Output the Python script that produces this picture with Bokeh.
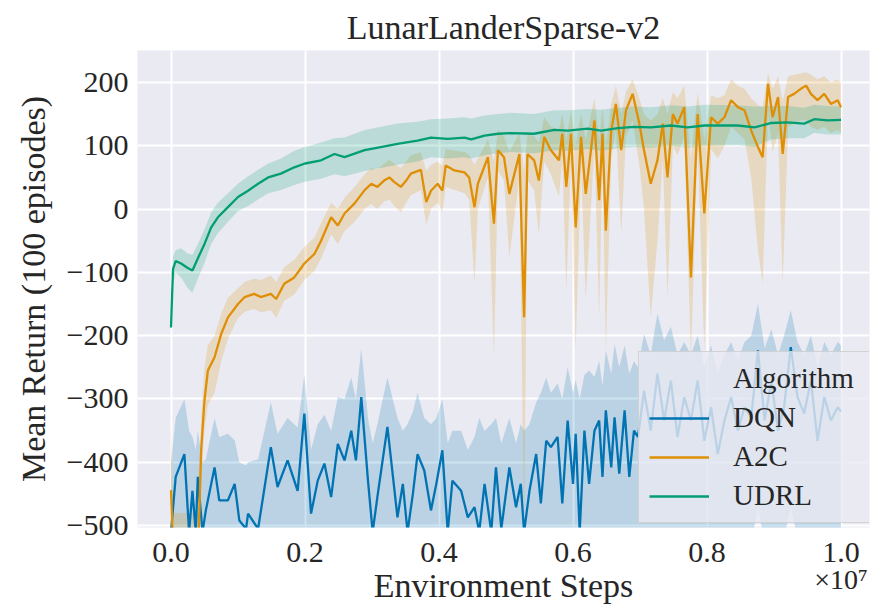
from bokeh.plotting import figure
from bokeh.models import Range1d, FixedTicker, Legend, LegendItem, LinearAxis, CustomJSTickFormatter
from bokeh.embed import file_html
from bokeh.resources import INLINE

# ---------------- data (x in units of 1e7 environment steps) ----------------
title_text = "LunarLanderSparse-v2"
x_label = "Environment Steps"
x_offset_text = "\u00d710\u2077"
y_label = "Mean Return (100 episodes)"
x_ticks = [0.0, 0.2, 0.4, 0.6, 0.8, 1.0]
y_ticks = [-500, -400, -300, -200, -100, 0, 100, 200]
algorithms = ["DQN", "A2C", "UDRL"]
colors = ["#0173B2", "#DE8F05", "#029E73"]

udrl_x = [0.000, 0.003, 0.007, 0.015, 0.025, 0.032, 0.040, 0.050, 0.060, 0.070, 0.085, 0.100,
          0.115, 0.130, 0.145, 0.164, 0.184, 0.200, 0.224, 0.244, 0.259, 0.289, 0.313, 0.338,
          0.368, 0.388, 0.413, 0.438, 0.448, 0.468, 0.488, 0.507, 0.542, 0.572, 0.592, 0.622,
          0.642, 0.667, 0.691, 0.716, 0.746, 0.771, 0.796, 0.846, 0.871, 0.896, 0.920, 0.945,
          0.960, 0.980, 1.000]
udrl_mean = [-187, -95, -82, -86, -93, -97, -78, -55, -29, -13, 3, 19,
             29, 40, 50, 56, 66, 72, 77, 87, 82, 93, 98, 103,
             108, 113, 111, 113, 110, 116, 119, 120, 119, 125, 124, 127,
             124, 128, 130, 129, 132, 129, 132, 132, 129, 136, 137, 135,
             142, 140, 141]
udrl_lo = [-195, -120, -100, -108, -125, -132, -110, -85, -55, -38, -20, -3,
           5, 15, 25, 30, 38, 43, 48, 55, 52, 60, 65, 70,
           75, 82, 80, 82, 80, 85, 88, 90, 88, 93, 92, 95,
           92, 96, 98, 97, 100, 97, 100, 101, 98, 110, 112, 112,
           120, 118, 118]
udrl_hi = [-178, -75, -65, -62, -70, -72, -55, -32, -5, 10, 25, 40,
           52, 62, 72, 80, 92, 98, 105, 112, 113, 125, 130, 135,
           138, 142, 143, 145, 143, 148, 150, 152, 150, 156, 156, 158,
           157, 160, 162, 161, 164, 162, 165, 164, 162, 163, 163, 160,
           165, 163, 162]

a2c_x = [0.000, 0.004, 0.040, 0.045, 0.050, 0.055, 0.065, 0.075, 0.085, 0.100, 0.110, 0.124,
         0.134, 0.149, 0.157, 0.169, 0.184, 0.199, 0.214, 0.224, 0.239, 0.249, 0.259, 0.274,
         0.289, 0.299, 0.308, 0.318, 0.326, 0.333, 0.343, 0.351, 0.358, 0.373, 0.381, 0.388,
         0.398, 0.405, 0.410, 0.423, 0.438, 0.445, 0.453, 0.458, 0.473, 0.482, 0.488, 0.497,
         0.505, 0.520, 0.527, 0.532, 0.542, 0.549, 0.557, 0.567, 0.579, 0.584, 0.590, 0.597,
         0.604, 0.612, 0.619, 0.632, 0.639, 0.644, 0.649, 0.657, 0.664, 0.672, 0.679, 0.689,
         0.699, 0.706, 0.716, 0.726, 0.734, 0.741, 0.749, 0.756, 0.766, 0.776, 0.786, 0.796,
         0.806, 0.816, 0.826, 0.836, 0.846, 0.856, 0.866, 0.876, 0.883, 0.891, 0.898, 0.906,
         0.913, 0.921, 0.930, 0.940, 0.948, 0.955, 0.965, 0.975, 0.985, 0.995, 1.000]
a2c_mean = [-444, -560, -560, -381, -302, -255, -234, -197, -171, -150, -139, -134,
            -139, -134, -142, -118, -108, -86, -71, -50, -13, -26, -7, 9,
            30, 40, 35, 45, 50, 43, 35, 45, 56, 62, 11, 29,
            40, 29, 69, 61, 58, 50, 3, 40, 82, -23, 93, 82,
            24, 87, -171, 87, 77, 45, 114, 93, 77, 119, 35, 119,
            -29, 114, 24, 140, 14, 119, -34, 124, 166, 93, 156, 182,
            135, 93, 40, 77, 135, 50, 150, 135, 161, -108, 150, -7,
            145, 135, 145, 172, 161, 156, 124, 98, 82, 198, 145, 177,
            87, 177, 182, 190, 195, 182, 172, 182, 166, 172, 161]
a2c_lo = [-520, -600, -600, -430, -350, -310, -290, -240, -205, -172, -162, -158,
          -163, -160, -172, -145, -135, -112, -98, -78, -40, -55, -35, -20,
          0, 8, 0, 12, 15, 5, -5, 10, 22, 30, -25, 0,
          10, -5, 35, 30, 25, 15, -118, 0, 50, -234, 60, 45,
          -76, 50, -510, 45, 30, -40, 75, 55, 20, 80, -129, 80,
          -223, 70, -144, 100, -171, 75, -223, 80, 125, -39, 115, 140,
          70, 0, -171, -50, 80, -140, 100, 85, 115, -234, 100, -223,
          95, 80, 100, 130, 120, 110, 50, -65, -118, 150, 90, 120,
          -118, 130, 135, 140, 140, 130, 125, 130, 120, 125, 120]
a2c_hi = [-345, -480, -480, -330, -250, -215, -200, -165, -140, -125, -115, -110,
          -112, -105, -115, -92, -80, -60, -45, -22, 10, 0, 18, 35,
          55, 65, 62, 72, 78, 72, 65, 75, 85, 90, 60, 70,
          75, 68, 95, 92, 90, 85, 70, 80, 110, 75, 125, 115,
          90, 120, 60, 120, 115, 105, 145, 130, 125, 150, 110, 155,
          100, 150, 110, 175, 110, 160, 100, 165, 195, 150, 185, 205,
          175, 150, 140, 150, 175, 150, 185, 175, 195, 80, 185, 110,
          180, 175, 180, 205, 195, 190, 175, 165, 160, 215, 190, 210,
          170, 210, 212, 214, 216, 212, 205, 210, 200, 205, 198]

dqn_x = [0.000, 0.007, 0.020, 0.027, 0.032, 0.037, 0.040, 0.047, 0.052, 0.065, 0.072, 0.085,
         0.095, 0.102, 0.112, 0.115, 0.130, 0.149, 0.159, 0.174, 0.189, 0.199, 0.209, 0.219,
         0.229, 0.239, 0.249, 0.259, 0.269, 0.276, 0.284, 0.294, 0.301, 0.308, 0.323, 0.338,
         0.346, 0.353, 0.361, 0.368, 0.378, 0.388, 0.396, 0.405, 0.413, 0.420, 0.433, 0.443,
         0.453, 0.460, 0.468, 0.478, 0.485, 0.493, 0.505, 0.515, 0.522, 0.527, 0.535, 0.545,
         0.552, 0.560, 0.567, 0.577, 0.584, 0.592, 0.600, 0.604, 0.610, 0.617, 0.624, 0.632,
         0.639, 0.644, 0.649, 0.657, 0.662, 0.669, 0.677, 0.684, 0.691, 0.697, 0.706, 0.716,
         0.726, 0.736, 0.746, 0.756, 0.766, 0.776, 0.786, 0.796, 0.806, 0.816, 0.826, 0.836,
         0.846, 0.856, 0.866, 0.876, 0.886, 0.896, 0.906, 0.915, 0.925, 0.935, 0.945, 0.955,
         0.965, 0.975, 0.985, 0.995, 1.000]
dqn_mean = [-510, -423, -387, -510, -445, -510, -423, -510, -476, -408, -460, -460,
            -434, -492, -505, -481, -505, -376, -439, -397, -445, -323, -481, -429,
            -402, -455, -371, -397, -350, -397, -297, -429, -510, -455, -344, -487,
            -434, -510, -450, -387, -413, -476, -434, -381, -510, -429, -445, -487,
            -471, -510, -434, -510, -408, -505, -408, -471, -434, -510, -445, -387,
            -465, -366, -376, -360, -465, -334, -434, -355, -510, -350, -434, -350,
            -334, -423, -318, -408, -329, -418, -318, -423, -350, -360, -287, -350,
            -260, -334, -271, -360, -297, -334, -271, -366, -313, -387, -334, -297,
            -350, -313, -330, -223, -334, -271, -350, -313, -218, -297, -323, -271,
            -366, -297, -334, -313, -320]
dqn_lo = [-560] * 83 + [-540, -520, -530, -510, -540, -520, -530, -510, -540, -520, -550, -530,
                        -520, -540, -520, -530, -470, -530, -510, -540, -520, -470, -520, -530,
                        -510, -550, -520, -530, -520, -525]
dqn_hi = [-400, -330, -300, -350, -360, -380, -350, -400, -395, -330, -360, -355,
          -365, -400, -405, -400, -395, -305, -355, -330, -345, -262, -380, -340,
          -325, -350, -297, -300, -266, -300, -220, -330, -370, -340, -266, -330,
          -350, -340, -320, -290, -330, -340, -330, -300, -370, -350, -350, -380,
          -360, -330, -350, -340, -330, -370, -330, -370, -340, -350, -340, -305,
          -290, -266, -290, -275, -300, -250, -290, -270, -300, -262, -255, -265,
          -240, -280, -223, -260, -213, -250, -215, -260, -240, -250, -197, -230,
          -165, -207, -186, -230, -210, -230, -200, -250, -215, -260, -230, -210,
          -240, -210, -200, -150, -220, -190, -230, -200, -160, -210, -230, -200,
          -250, -210, -230, -210, -215]

# ---------------- figure ----------------
FONT = "Liberation Serif"
TXT = "#262626"

p = figure(width=871, height=606, output_backend="svg", toolbar_location=None,
           x_range=Range1d(-0.05, 1.0425), y_range=Range1d(-503, 250.5),
           min_border_left=137, min_border_right=2, min_border_top=50, min_border_bottom=79)

p.background_fill_color = "#EAEAF2"
p.border_fill_color = "white"
p.outline_line_color = None

p.title.text = title_text
p.title.align = "center"
p.title.vertical_align = "middle"
p.title.text_font = FONT
p.title.text_font_size = "34px"
p.title.text_font_style = "normal"
p.title.text_color = TXT
p.title.standoff = 8

series = [
    (dqn_x, dqn_mean, dqn_lo, dqn_hi),
    (a2c_x, a2c_mean, a2c_lo, a2c_hi),
    (udrl_x, udrl_mean, udrl_lo, udrl_hi),
]

for (xs, m, lo, hi), c in zip(series, colors):
    p.varea(x=xs, y1=lo, y2=hi, fill_color=c, fill_alpha=0.2)

line_renderers = []
for (xs, m, lo, hi), c in zip(series, colors):
    line_renderers.append(p.line(x=xs, y=m, line_color=c, line_width=2.3))


def style_axis(ax):
    ax.axis_line_color = None
    ax.major_tick_line_color = None
    ax.minor_tick_line_color = None
    ax.major_tick_out = 0
    ax.major_tick_in = 0
    ax.minor_tick_out = 0
    ax.minor_tick_in = 0
    ax.major_label_text_font = FONT
    ax.major_label_text_font_size = "30px"
    ax.major_label_text_color = TXT
    ax.axis_label_text_font = FONT
    ax.axis_label_text_font_size = "34px"
    ax.axis_label_text_font_style = "normal"
    ax.axis_label_text_color = TXT


style_axis(p.xaxis[0])
style_axis(p.yaxis[0])

p.xaxis.ticker = FixedTicker(ticks=x_ticks)
p.yaxis.ticker = FixedTicker(ticks=y_ticks)
p.xaxis.formatter = CustomJSTickFormatter(code="return tick.toFixed(1);")
p.yaxis.formatter = CustomJSTickFormatter(
    code="return tick < 0 ? '\u2212' + String(-tick) : String(tick);")
p.yaxis.axis_label = y_label
p.xaxis.major_label_standoff = 15
p.yaxis.major_label_standoff = 9
p.yaxis.axis_label_standoff = 12

# second (label-only) x axis: carries the offset text "x10^7" and the axis title
ax2 = LinearAxis(ticker=FixedTicker(ticks=[1.0]))
style_axis(ax2)
ax2.major_label_text_font_size = "28px"
ax2.formatter = CustomJSTickFormatter(code="return %r;" % x_offset_text)
ax2.major_label_standoff = -1
ax2.axis_label = x_label
ax2.axis_label_standoff = -31
p.add_layout(ax2, "below")

p.grid.grid_line_color = "white"
p.grid.grid_line_width = 2
p.xgrid.ticker = FixedTicker(ticks=x_ticks)
p.ygrid.ticker = FixedTicker(ticks=y_ticks)

# legend (seaborn style: hue name as first, handle-less entry)
dummy = p.line(x=[0.0], y=[0.0], line_alpha=0)
items = [LegendItem(label="Algorithm", renderers=[dummy])]
for name, r in zip(algorithms, line_renderers):
    items.append(LegendItem(label=name, renderers=[r]))
legend = Legend(items=items, location=(501, 4),
                background_fill_color="#EAEAF2", background_fill_alpha=0.8,
                border_line_color="#cccccc", border_line_alpha=0.8, border_line_width=1,
                label_text_font=FONT, label_text_font_size="29px", label_text_color=TXT,
                glyph_width=60, glyph_height=30, label_height=30, label_width=126,
                label_standoff=24, spacing=6, padding=10, margin=0)
p.add_layout(legend)

open("out.html", "w").write(file_html(p, INLINE))
